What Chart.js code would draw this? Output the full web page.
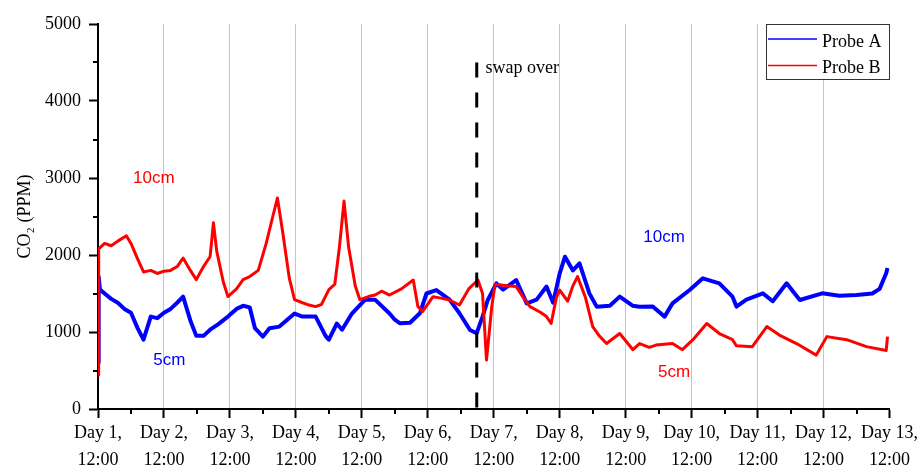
<!DOCTYPE html>
<html>
<head>
<meta charset="utf-8">
<script src="https://cdn.jsdelivr.net/npm/chart.js@4.4.1/dist/chart.umd.min.js"></script>
<style>
  html, body { margin: 0; padding: 0; background: #ffffff; }
  #wrap { width: 920px; height: 468px; }
</style>
</head>
<body>
<div id="wrap"><canvas id="c" width="920" height="468"></canvas></div>
<script>
// ---- data (time in days after "Day 1, 12:00") ----
const dayLabels = ['Day 1,', 'Day 2,', 'Day 3,', 'Day 4,', 'Day 5,', 'Day 6,', 'Day 7,',
                   'Day 8,', 'Day 9,', 'Day 10,', 'Day 11,', 'Day 12,', 'Day 13,'];
const timeLabel = '12:00';
const yTicks = [0, 1000, 2000, 3000, 4000, 5000];

const timeA = [0, 0.01, 0.03, 0.1, 0.2, 0.3, 0.4, 0.5, 0.6, 0.69, 0.8, 0.9, 1.0, 1.1, 1.2, 1.29,
  1.4, 1.49, 1.6, 1.7, 1.82, 1.97, 2.1, 2.2, 2.3, 2.38, 2.5, 2.6, 2.75, 2.98, 3.1, 3.3, 3.45, 3.5,
  3.62, 3.7, 3.85, 4.05, 4.2, 4.42, 4.5, 4.58, 4.73, 4.88, 4.98, 5.13, 5.33, 5.48, 5.64, 5.74, 5.83,
  5.91, 6.04, 6.14, 6.34, 6.5, 6.65, 6.8, 6.9, 7.0, 7.08, 7.2, 7.3, 7.45, 7.56, 7.76, 7.91, 8.11,
  8.21, 8.41, 8.59, 8.71, 8.97, 9.17, 9.42, 9.62, 9.68, 9.83, 10.08, 10.23, 10.44, 10.64, 10.98,
  11.24, 11.5, 11.74, 11.85, 11.95, 11.97];
const probeA = [600, 1720, 1550, 1500, 1430, 1380, 1300, 1250, 1050, 900, 1200, 1180, 1250, 1300, 1380, 1460,
  1150, 950, 950, 1030, 1100, 1200, 1300, 1340, 1320, 1050, 940, 1050, 1070, 1240, 1200, 1200, 950, 900,
  1110, 1030, 1240, 1420, 1420, 1240, 1160, 1113, 1120, 1243, 1500, 1545, 1420, 1243, 1026, 983, 1200,
  1416, 1632, 1550, 1675, 1372, 1420, 1590, 1380, 1762, 1978, 1800, 1892, 1502, 1329, 1340, 1459, 1340,
  1329, 1330, 1200, 1372, 1545, 1697, 1632, 1459, 1330, 1420, 1502, 1400, 1632, 1416, 1502,
  1470, 1480, 1500, 1560, 1762, 1830];

const timeB = [0, 0.01, 0.1, 0.2, 0.3, 0.43, 0.5, 0.6, 0.69, 0.8, 0.9, 1.0, 1.1, 1.2, 1.29, 1.4, 1.49,
  1.6, 1.7, 1.75, 1.8, 1.9, 1.97, 2.1, 2.2, 2.3, 2.43, 2.55, 2.65, 2.72, 2.8, 2.9, 2.98, 3.1, 3.2, 3.3,
  3.39, 3.5, 3.59, 3.66, 3.73, 3.8, 3.9, 3.97, 4.1, 4.2, 4.3, 4.42, 4.6, 4.78, 4.85, 4.92, 5.08, 5.2,
  5.33, 5.48, 5.62, 5.76, 5.83, 5.89, 5.97, 6.02, 6.2, 6.34, 6.44, 6.55, 6.7, 6.8, 6.87, 6.95, 7.0,
  7.12, 7.2, 7.27, 7.39, 7.5, 7.6, 7.71, 7.91, 8.11, 8.21, 8.36, 8.46, 8.71, 8.86, 9.02, 9.23, 9.42,
  9.62, 9.68, 9.92, 10.14, 10.33, 10.59, 10.89, 11.05, 11.35, 11.65, 11.95, 11.97];
const probeB = [440, 2080, 2150, 2120, 2180, 2250, 2150, 1950, 1780, 1800, 1760, 1790, 1800, 1850, 1960, 1800, 1680,
  1850, 1980, 2420, 2050, 1650, 1460, 1560, 1680, 1720, 1800, 2150, 2500, 2740, 2300, 1700, 1420, 1380, 1350, 1330,
  1360, 1550, 1620, 2100, 2700, 2100, 1600, 1420, 1460, 1480, 1530, 1480, 1560, 1675, 1330, 1264, 1459, 1440,
  1416, 1351, 1560, 1675, 1500, 636, 1330, 1620, 1600, 1590, 1460, 1330, 1260, 1200, 1110, 1450, 1545,
  1400, 1600, 1720, 1450, 1070, 950, 850, 980, 770, 850, 800, 830, 850, 770, 900, 1110, 980,
  900, 820, 810, 1070, 960, 850, 700, 940, 900, 810, 760, 940];

const seriesNames = ['Probe A', 'Probe B'];
const swapTime = 5.742;      // dashed "swap over" marker (days)
const swapTop = 4500;        // top of dashed marker (ppm)
const notes = [
  { text: '10cm', t: 0.531, v: 2931, color: '#ff0000' },
  { text: '5cm', t: 0.838, v: 571, color: '#0000ff' },
  { text: '10cm', t: 8.267, v: 2173, color: '#0000ff' },
  { text: '5cm', t: 8.49, v: 419, color: '#ff0000' }
];
const swapNote = { text: 'swap over', t: 5.875, v: 4364 };

// ---- build ----
const SERIF = '"Liberation Serif", "Times New Roman", serif';
const SANS = '"Liberation Sans", Arial, sans-serif';
const ptsA = timeA.map((t, i) => ({ x: t, y: probeA[i] }));
const ptsB = timeB.map((t, i) => ({ x: t, y: probeB[i] }));

const decorPlugin = {
  id: 'decor',
  afterDatasetsDraw(chart) {
    const ctx = chart.ctx;
    const xs = chart.scales.x, ys = chart.scales.y;
    // dashed swap line
    ctx.save();
    ctx.strokeStyle = '#000';
    ctx.lineWidth = 3;
    ctx.setLineDash([15, 15]);
    const sx = xs.getPixelForValue(swapTime);
    ctx.beginPath();
    ctx.moveTo(sx, ys.getPixelForValue(swapTop));
    ctx.lineTo(sx, ys.getPixelForValue(0));
    ctx.stroke();
    ctx.setLineDash([]);
    // annotations
    ctx.textBaseline = 'alphabetic';
    ctx.textAlign = 'left';
    ctx.font = '17px ' + SANS;
    notes.forEach(n => {
      ctx.fillStyle = n.color;
      ctx.fillText(n.text, xs.getPixelForValue(n.t), ys.getPixelForValue(n.v));
    });
    ctx.font = '18px ' + SERIF;
    ctx.fillStyle = '#000';
    ctx.fillText(swapNote.text, xs.getPixelForValue(swapNote.t), ys.getPixelForValue(swapNote.v));
    ctx.restore();
  },
  afterDraw(chart) {
    const ctx = chart.ctx;
    const xs = chart.scales.x, ys = chart.scales.y;
    const area = chart.chartArea;
    ctx.save();
    // minor ticks
    ctx.strokeStyle = '#000';
    ctx.lineWidth = 2;
    ctx.beginPath();
    for (let v = 500; v < 5000; v += 1000) {
      const py = Math.round(ys.getPixelForValue(v));
      ctx.moveTo(area.left - 5, py);
      ctx.lineTo(area.left, py);
    }
    for (let t = 0.5; t < 12; t += 1) {
      const px = Math.round(xs.getPixelForValue(t));
      ctx.moveTo(px, area.bottom);
      ctx.lineTo(px, area.bottom + 5);
    }
    ctx.stroke();
    // legend box
    const lx = 766, ly = 24, lw = 123, lh = 55;
    ctx.fillStyle = '#fff';
    ctx.fillRect(lx, ly, lw, lh);
    ctx.strokeStyle = '#333';
    ctx.lineWidth = 1;
    ctx.strokeRect(lx + 0.5, ly + 0.5, lw, lh);
    const ds = chart.data.datasets;
    ctx.font = '18px ' + SERIF;
    ctx.textBaseline = 'alphabetic';
    ctx.textAlign = 'left';
    [0, 1].forEach(i => {
      const cy = ly + 15 + i * 26.5;
      ctx.strokeStyle = ds[i].borderColor;
      ctx.lineWidth = 1.5;
      ctx.beginPath();
      ctx.moveTo(lx + 2, cy);
      ctx.lineTo(lx + 51, cy);
      ctx.stroke();
      ctx.fillStyle = '#000';
      ctx.fillText(ds[i].label, lx + 56, cy + 7.5);
    });
    ctx.restore();
  }
};

new Chart(document.getElementById('c'), {
  type: 'line',
  data: {
    datasets: [
      { label: seriesNames[0], data: ptsA, borderColor: '#0000ff', borderWidth: 4, order: 2 },
      { label: seriesNames[1], data: ptsB, borderColor: '#ff0000', borderWidth: 3, order: 1 }
    ]
  },
  options: {
    responsive: false,
    devicePixelRatio: 1,
    animation: false,
    layout: { padding: { top: 24, right: 30.5, bottom: 0, left: 0 } },
    elements: { point: { radius: 0 }, line: { tension: 0, borderJoinStyle: 'round' } },
    plugins: { legend: { display: false }, tooltip: { enabled: false } },
    scales: {
      x: {
        type: 'linear', min: 0, max: 12,
        afterFit(s) { s.height = 59; s.paddingLeft = 0; s.paddingRight = 0; },
        afterBuildTicks(s) { s.ticks = dayLabels.map((_, i) => ({ value: i })); },
        ticks: {
          autoSkip: false, maxRotation: 0, minRotation: 0, padding: 2,
          color: '#000', font: { family: SERIF, size: 18, lineHeight: 1.48 },
          callback: (v) => [dayLabels[v], timeLabel]
        },
        grid: {
          drawOnChartArea: true, drawTicks: true, tickLength: 9, tickWidth: 2, tickColor: '#000',
          lineWidth: 1,
          color: (c) => (c.index > 0 && c.index < dayLabels.length - 1) ? '#c6c6c6' : 'rgba(0,0,0,0)'
        },
        border: { display: true, color: '#000', width: 2 }
      },
      y: {
        min: 0, max: 5000,
        afterFit(s) { s.width = 98; s.paddingTop = 0; s.paddingBottom = 0; },
        afterBuildTicks(s) { s.ticks = yTicks.map(v => ({ value: v })); },
        ticks: { padding: 8, color: '#000', font: { family: SERIF, size: 18 }, callback: (v) => String(v) },
        grid: { drawOnChartArea: false, drawTicks: true, tickLength: 9, tickWidth: 2, tickColor: '#000' },
        border: { display: true, color: '#000', width: 2 },
        title: {
          display: true, text: 'CO₂ (PPM)', color: '#000',
          font: { family: SERIF, size: 18 }, padding: { top: 14, bottom: 0 }
        }
      }
    }
  },
  plugins: [decorPlugin]
});
</script>
</body>
</html>
